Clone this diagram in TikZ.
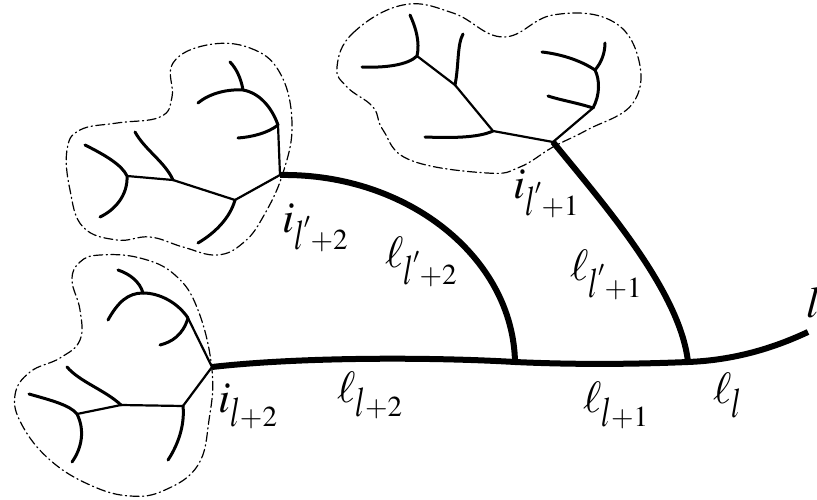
\documentclass[tikz,border=0pt]{standalone}
\usepackage{mathptmx}
\usepackage{graphicx}
\DeclareMathSizes{44}{44}{29}{22}
\newcommand\Ls{\scalebox{1}[1.45]{$\scriptstyle l$}}
\newcommand\sbx[1]{_{\lower 8pt\hbox{$\scriptstyle #1$}}}
\begin{document}
\begin{tikzpicture}[x=1pt,y=-1pt,line join=round,line cap=round,
  thickline/.style={line width=6pt,line cap=butt},
  branch/.style={line width=3pt},
  twig/.style={line width=2.2pt},
  outline/.style={line width=1.2pt,dash pattern=on 9pt off 3.5pt on 1.2pt off 3.5pt},
  lbl/.style={inner sep=0pt,anchor=base west,font=\fontsize{44}{48}\selectfont}]
\useasboundingbox (0,0) rectangle (817,500);
% junctions
\coordinate (rA) at (212,367);
\coordinate (rB) at (280,175);
\coordinate (rC) at (553,142);
\coordinate (j2) at (515,362);
\coordinate (j1) at (688,362);
\coordinate (endL) at (808,332);
% main thick edges
\draw[thickline] (rA) .. controls (300,357) and (430,357) .. (j2) .. controls (580,365) and (640,364) .. (j1) .. controls (740,360) and (780,345) .. (endL);
\draw[thickline] (rB) .. controls (408,173) and (513,258) .. (j2);
\draw[thickline] (rC) .. controls (600,200) and (680,290) .. (j1);
% ---------------- tree A
\coordinate (a1) at (188,318);
\coordinate (a2) at (143,293);
\coordinate (b1) at (183,406);
\coordinate (b2) at (121,405);
\coordinate (b3) at (77,414);
\draw[twig] (rA) -- (a1);
\draw[branch] (108,320) .. controls (118,302) and (128,293) .. (a2) .. controls (160,293) and (178,303) .. (a1);
\draw[branch] (a2) .. controls (140,282) and (130,274) .. (118,270);
\draw[branch] (a1) .. controls (183,335) and (172,342) .. (160,345);
\draw[twig] (rA) -- (b1) -- (b2) -- (b3);
\draw[branch] (b1) .. controls (185,425) and (178,445) .. (168,460);
\draw[branch] (b2) .. controls (105,390) and (80,382) .. (67,367);
\draw[branch] (29,394) .. controls (50,400) and (70,405) .. (b3) .. controls (85,430) and (82,448) .. (72,462);
\draw[outline] plot[smooth cycle,tension=0.7] coordinates {(100,255) (140,258) (175,275) (198,310) (212,370) (209,420) (198,465) (165,490) (130,496) (90,485) (50,460) (22,425) (15,395) (30,372) (60,358) (80,340) (80,310) (72,280) (80,262)};
% ---------------- tree B
\coordinate (c1) at (278,125);
\coordinate (c2) at (243,90);
\coordinate (d1) at (235,200);
\coordinate (d2) at (173,180);
\coordinate (d3) at (127,176);
\draw[twig] (rB) -- (c1);
\draw[branch] (198,103) .. controls (210,93) and (228,89) .. (c2) .. controls (260,93) and (272,108) .. (c1);
\draw[branch] (c2) .. controls (241,78) and (236,68) .. (230,62);
\draw[branch] (c1) .. controls (268,133) and (252,137) .. (238,138);
\draw[twig] (rB) -- (d1) -- (d2) -- (d3);
\draw[branch] (d1) .. controls (230,218) and (215,233) .. (198,243);
\draw[branch] (d2) .. controls (165,162) and (145,150) .. (135,132);
\draw[branch] (85,145) .. controls (105,155) and (122,165) .. (d3) .. controls (128,195) and (115,210) .. (100,217);
\draw[outline] plot[smooth cycle,tension=0.7] coordinates {(207,45) (250,48) (280,73) (292,123) (283,173) (263,217) (243,243) (217,255) (183,247) (150,237) (117,240) (83,227) (70,190) (67,150) (80,130) (117,123) (160,117) (172,97) (173,63)};
% ---------------- tree C
\coordinate (e1) at (493,131);
\coordinate (e2) at (455,85);
\coordinate (e3) at (417,56);
\coordinate (f1) at (593,108);
\coordinate (f2) at (595,70);
\draw[twig] (rC) -- (e1) -- (e2) -- (e3);
\draw[branch] (e1) .. controls (478,138) and (450,138) .. (425,137);
\draw[branch] (e2) .. controls (459,65) and (457,45) .. (463,34);
\draw[branch] (362,67) .. controls (385,68) and (408,65) .. (e3) .. controls (420,42) and (416,28) .. (410,15);
\draw[twig] (rC) -- (f1);
\draw[branch] (f1) .. controls (600,95) and (600,80) .. (f2);
\draw[branch] (f2) .. controls (580,60) and (560,54) .. (542,52);
\draw[branch] (f2) .. controls (602,62) and (605,52) .. (605,43);
\draw[branch] (f1) .. controls (578,103) and (560,100) .. (548,96);
\draw[outline] plot[smooth cycle,tension=0.7] coordinates {(337,67) (353,33) (403,5) (453,13) (503,37) (553,15) (610,20) (638,57) (633,103) (587,130) (553,147) (520,167) (487,173) (410,160) (383,130) (373,107) (347,87)};
% ---------------- labels
\node[lbl] (LiA) at (218,412) {$i\sbx{\Ls+2}$};
\node[lbl] (LlA) at (337,402) {$\ell\sbx{\Ls+2}$};
\node[lbl] (LiB) at (282,232) {$i\sbx{\Ls'+2}$};
\node[lbl] (LlB) at (385,267) {$\ell\sbx{\Ls'+2}$};
\node[lbl] (LiC) at (513,198) {$i\sbx{\Ls'+1}$};
\node[lbl] (LlC) at (570,280) {$\ell\sbx{\Ls'+1}$};
\node[lbl] (LlD) at (583,412) {$\ell\sbx{\Ls+1}$};
\node[lbl] (LlE) at (713,403) {$\ell\sbx{\Ls}$};
\node[lbl] (Ll) at (806,317) {$l$};
\end{tikzpicture}
\end{document}
